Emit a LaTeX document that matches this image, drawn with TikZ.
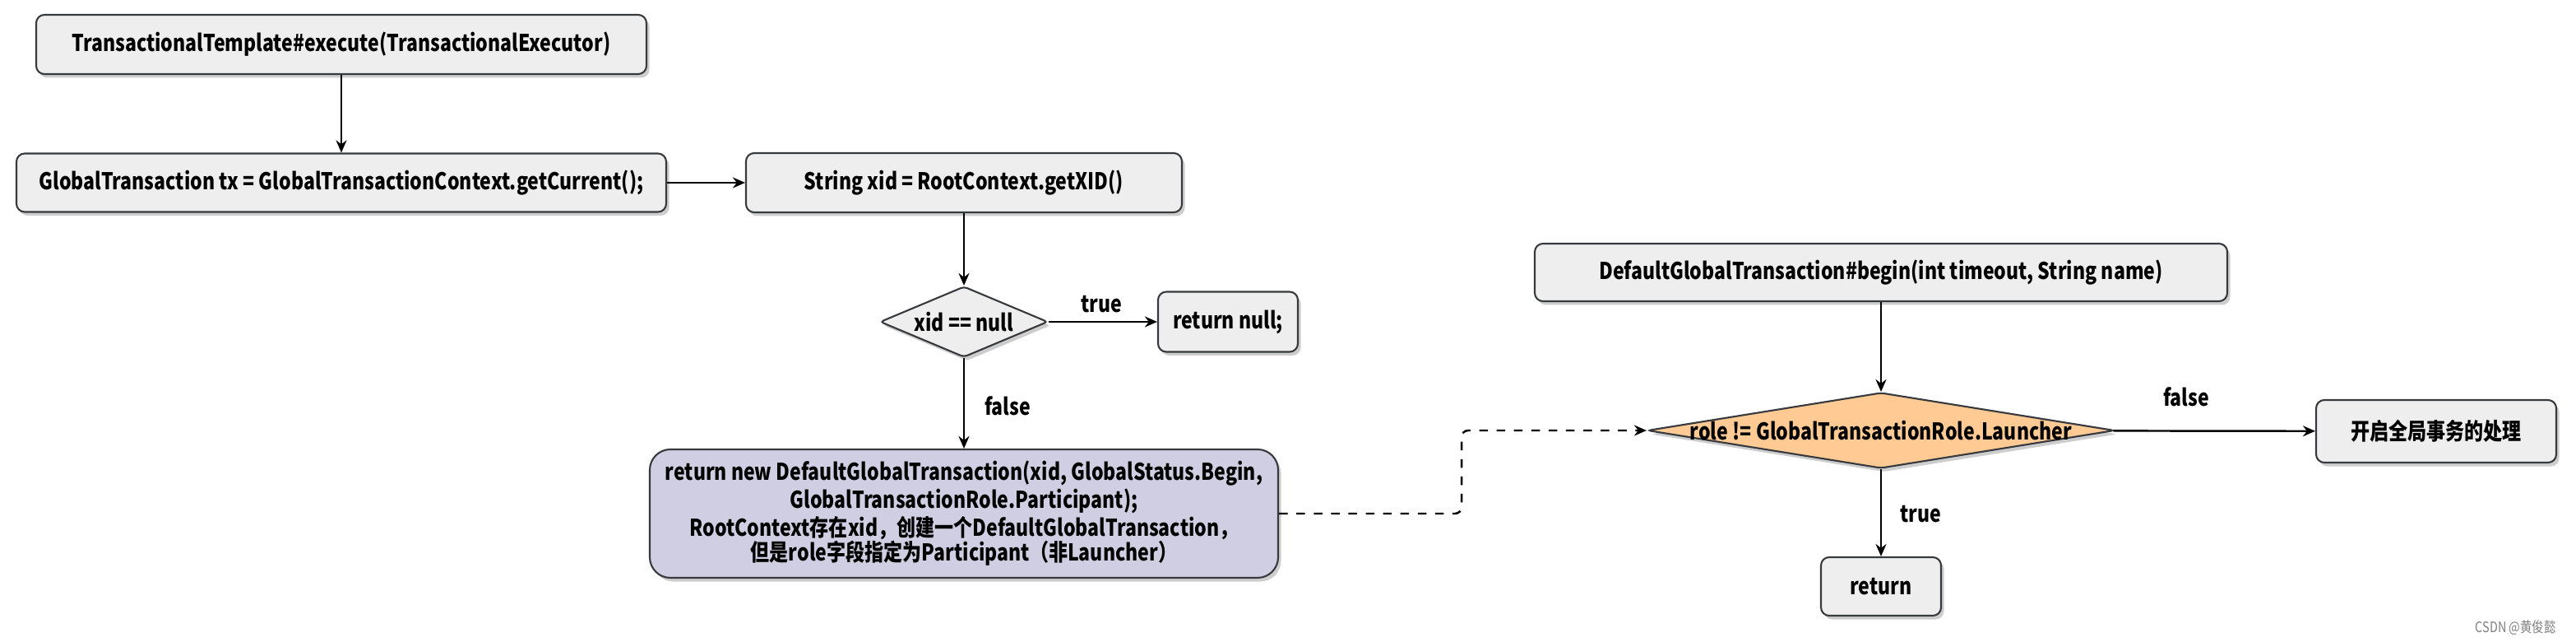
\documentclass[tikz,border=0pt]{standalone}
\usepackage{fontspec}
\setmainfont{Noto Sans CJK SC}[FakeStretch=0.82]
\usepackage{xcolor}
\usetikzlibrary{arrows.meta,positioning,shapes.geometric,shadows}

\definecolor{boxfill}{HTML}{EEEEEE}
\definecolor{boxline}{HTML}{36393D}
\definecolor{txfill}{HTML}{D0CEE2}
\definecolor{rolefill}{HTML}{FFCA94}

\begin{document}
\begin{tikzpicture}[>={Stealth[length=1.5mm,width=1.3mm]},
  box/.style={draw=boxline,line width=0.6pt,rounded corners=0.1cm,fill=boxfill,
    inner sep=0pt,font=\bfseries\fontsize{8}{8.6}\selectfont,
    drop shadow={shadow xshift=0.035cm,shadow yshift=-0.045cm,opacity=0.25,fill=boxline}},
  cond/.style={box,diamond,rounded corners=0.04cm},
  flow/.style={->,line width=0.7pt},
  lbl/.style={font=\bfseries\fontsize{8}{9}\selectfont}]
\useasboundingbox (0,0) rectangle (31.32,-7.80);

% left part
\node[box,minimum width=7.42cm,minimum height=0.72cm] (tpl) at (4.15,-0.54) {TransactionalTemplate\#execute(TransactionalExecutor)};
\node[box,minimum width=7.90cm,minimum height=0.71cm] (cur) at (4.15,-2.22) {GlobalTransaction tx = GlobalTransactionContext.getCurrent();};
\node[box,minimum width=5.30cm,minimum height=0.72cm] (getxid) at (11.72,-2.22) {String xid = RootContext.getXID()};
\node[cond,minimum width=2.04cm,minimum height=0.86cm] (isnull) at (11.72,-3.91) {\makebox[0pt]{xid == null}};
\node[box,minimum width=1.70cm,minimum height=0.73cm] (retnull) at (14.93,-3.91) {return null;};
\node[box,fill=txfill,rounded corners=0.25cm,align=center,minimum width=7.64cm,minimum height=1.56cm] (newtx) at (11.72,-6.24)
  {return new DefaultGlobalTransaction(xid, GlobalStatus.Begin,\\ GlobalTransactionRole.Participant);\\ RootContext存在xid，创建一个DefaultGlobalTransaction，\\ 但是role字段指定为Participant（非Launcher）};

% right part
\node[box,minimum width=8.42cm,minimum height=0.70cm] (begin) at (22.87,-3.31) {DefaultGlobalTransaction\#begin(int timeout, String name)};
\node[cond,fill=rolefill,minimum width=5.68cm,minimum height=0.92cm] (role) at (22.87,-5.23) {\makebox[0pt]{role != GlobalTransactionRole.Launcher}};
\node[box,minimum width=2.92cm,minimum height=0.76cm] (open) at (29.62,-5.24) {开启全局事务的处理};
\node[box,minimum width=1.46cm,minimum height=0.71cm] (ret) at (22.87,-7.125) {return};

\draw[flow] (tpl) -- (cur);
\draw[flow] (cur) -- (getxid);
\draw[flow] (getxid) -- (isnull);
\draw[flow] (isnull) -- (retnull);
\draw[flow] (isnull) -- (newtx);
\draw[flow] (begin) -- (role);
\draw[flow] (role) -- (open);
\draw[flow] (role) -- (ret);

\coordinate (jump) at (17.77,-5.70);
\draw[flow,dashed,rounded corners=0.08cm] (newtx) -| (jump) |- (role);

\node[lbl] (ltrue) at (13.39,-3.70) {true};
\node[lbl] (lfalse) at (12.25,-4.93) {false};
\node[lbl] (rfalse) at (26.58,-4.82) {false};
\node[lbl] (rtrue) at (23.35,-6.25) {true};

\node[text=gray,font=\fontsize{5}{6}\selectfont,anchor=east] (mark) at (31.20,-7.63) {CSDN @黄俊懿};
\end{tikzpicture}
\end{document}
